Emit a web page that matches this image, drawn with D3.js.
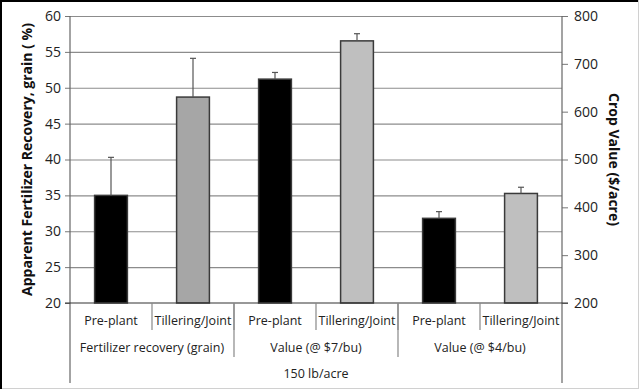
<!DOCTYPE html>
<html>
<head>
<meta charset="utf-8">
<script src="https://cdn.jsdelivr.net/npm/d3@7"></script>
<style>
  body { margin: 0; background: #fff; }
  svg { font-family: "Open Sans", sans-serif; }
</style>
</head>
<body>
<div id="chart"></div>
<script>
// bars, left to right
const timings = ["Pre-plant", "Tillering/Joint", "Pre-plant", "Tillering/Joint", "Pre-plant", "Tillering/Joint"]
const groups = ["Fertilizer recovery (grain)", "Value (@ $7/bu)", "Value (@ $4/bu)"]
const topLabel = "150 lb/acre"
// which axis each bar belongs to: recovery % on the left, $/acre on the right
const axisSide = ["left", "left", "right", "right", "right", "right"]
const values = [35.0, 48.7, 668, 748, 377, 429]
const errTop = [40.3, 54.1, 682, 763, 391, 442]
const fills = ["#000000", "#a6a6a6", "#000000", "#bfbfbf", "#000000", "#bfbfbf"]
const leftTicks = [20, 25, 30, 35, 40, 45, 50, 55, 60]
const rightTicks = [200, 300, 400, 500, 600, 700, 800]

const W = 640, H = 390
const margin = {top: 16, right: 78, bottom: 87, left: 70}
const plotW = W - margin.left - margin.right
const plotH = H - margin.top - margin.bottom

const svg = d3.select("#chart").append("svg")
  .attr("width", W)
  .attr("height", H)

// frame
svg.append("rect").attr("x", 0.5).attr("y", 0.5).attr("width", W - 2).attr("height", H - 2)
  .attr("fill", "none").attr("stroke", "#d0d0d0")
svg.append("path").attr("d", "M1,389V1H638").attr("fill", "none").attr("stroke", "#000").attr("stroke-width", 2)

const g = svg.append("g").attr("transform", "translate(" + margin.left + "," + margin.top + ")")

const x = d3.scaleBand().domain(d3.range(values.length)).range([0, plotW]).paddingInner(0.6).paddingOuter(0.3)
const slot = plotW / values.length
const yL = d3.scaleLinear().domain([20, 60]).range([plotH, 0])
const yR = d3.scaleLinear().domain([200, 800]).range([plotH, 0])
const yOf = (i) => axisSide[i] == "left" ? yL : yR

// gridlines
g.append("g")
  .attr("class", "grid")
  .call(d3.axisLeft(yL).tickValues(leftTicks.slice(1)).tickSize(-plotW).tickFormat(""))
  .call(s => s.select(".domain").remove())
  .selectAll("line").attr("stroke", "#8c8c8c").attr("stroke-width", 1.2)

// bars
g.selectAll(".bar")
  .data(values)
  .enter()
  .append("rect")
  .attr("class", "bar")
  .attr("x", (d, i) => x(i))
  .attr("width", x.bandwidth())
  .attr("y", (d, i) => yOf(i)(d))
  .attr("height", (d, i) => plotH - yOf(i)(d))
  .attr("fill", (d, i) => fills[i])
  .attr("stroke", "#3a3a3a")
  .attr("stroke-width", 1.5)

// error bars (upper only)
const err = g.selectAll(".err").data(errTop).enter().append("g").attr("class", "err")
err.append("line")
  .attr("x1", (d, i) => x(i) + x.bandwidth() / 2)
  .attr("x2", (d, i) => x(i) + x.bandwidth() / 2)
  .attr("y1", (d, i) => yOf(i)(values[i]))
  .attr("y2", (d, i) => yOf(i)(d))
  .attr("stroke", "#555").attr("stroke-width", 1.2)
err.append("line")
  .attr("x1", (d, i) => x(i) + x.bandwidth() / 2 - 3)
  .attr("x2", (d, i) => x(i) + x.bandwidth() / 2 + 3)
  .attr("y1", (d, i) => yOf(i)(d))
  .attr("y2", (d, i) => yOf(i)(d))
  .attr("stroke", "#555").attr("stroke-width", 1.2)

// left axis
const axL = g.append("g")
  .call(d3.axisLeft(yL).tickValues(leftTicks).tickSize(5).tickSizeOuter(0))
  .attr("font-family", null)
axL.select(".domain").remove()
axL.selectAll("line").attr("stroke", "#777")
axL.selectAll("text").attr("font-size", 14).attr("fill", "#222").attr("x", -9)
g.append("line").attr("x1", 0).attr("x2", 0).attr("y1", 0).attr("y2", plotH + 80)
  .attr("stroke", "#666").attr("stroke-width", 1.2)

// right axis
const axR = g.append("g").attr("transform", "translate(" + plotW + ",0)")
  .call(d3.axisRight(yR).tickValues(rightTicks).tickSize(6).tickSizeOuter(0))
  .attr("font-family", null)
axR.select(".domain").remove()
axR.selectAll("line").attr("stroke", "#777")
axR.selectAll("text").attr("font-size", 14).attr("fill", "#222").attr("x", 12)
g.append("line").attr("x1", plotW).attr("x2", plotW).attr("y1", 0).attr("y2", plotH + 80)
  .attr("stroke", "#666").attr("stroke-width", 1.2)

// baseline
g.append("line").attr("x1", -5).attr("x2", plotW + 6).attr("y1", plotH).attr("y2", plotH)
  .attr("stroke", "#333").attr("stroke-width", 1.2)

// category axis, three tiers
const cat = g.append("g").attr("transform", "translate(0," + plotH + ")")
cat.selectAll(".t1").data(timings).enter().append("text")
  .attr("x", (d, i) => (i + 0.5) * slot).attr("y", 22)
  .attr("text-anchor", "middle").attr("font-size", 12.5).attr("fill", "#222").text(d => d)
cat.selectAll(".d1").data(d3.range(1, timings.length)).enter().append("line")
  .attr("x1", d => d * slot).attr("x2", d => d * slot).attr("y1", 0).attr("y2", 27)
  .attr("stroke", "#888").attr("stroke-width", 1.2)
cat.selectAll(".t2").data(groups).enter().append("text")
  .attr("x", (d, i) => (i + 0.5) * slot * 2).attr("y", 49)
  .attr("text-anchor", "middle").attr("font-size", 12.5).attr("fill", "#222").text(d => d)
cat.selectAll(".d2").data(d3.range(1, groups.length)).enter().append("line")
  .attr("x1", d => d * slot * 2).attr("x2", d => d * slot * 2).attr("y1", 0).attr("y2", 54)
  .attr("stroke", "#888").attr("stroke-width", 1.2)
cat.append("text").attr("x", plotW / 2).attr("y", 75)
  .attr("text-anchor", "middle").attr("font-size", 12.5).attr("fill", "#222").text(topLabel)

// axis titles
svg.append("text")
  .attr("transform", "translate(32," + (margin.top + plotH / 2) + ") rotate(-90)")
  .attr("text-anchor", "middle").attr("font-size", 14).attr("font-weight", "bold").attr("fill", "#111")
  .text("Apparent Fertilizer Recovery, grain ( %)")
svg.append("text")
  .attr("transform", "translate(609," + (margin.top + plotH / 2) + ") rotate(90)")
  .attr("text-anchor", "middle").attr("font-size", 14).attr("font-weight", "bold").attr("fill", "#111")
  .text("Crop Value ($/acre)")
</script>
</body>
</html>
